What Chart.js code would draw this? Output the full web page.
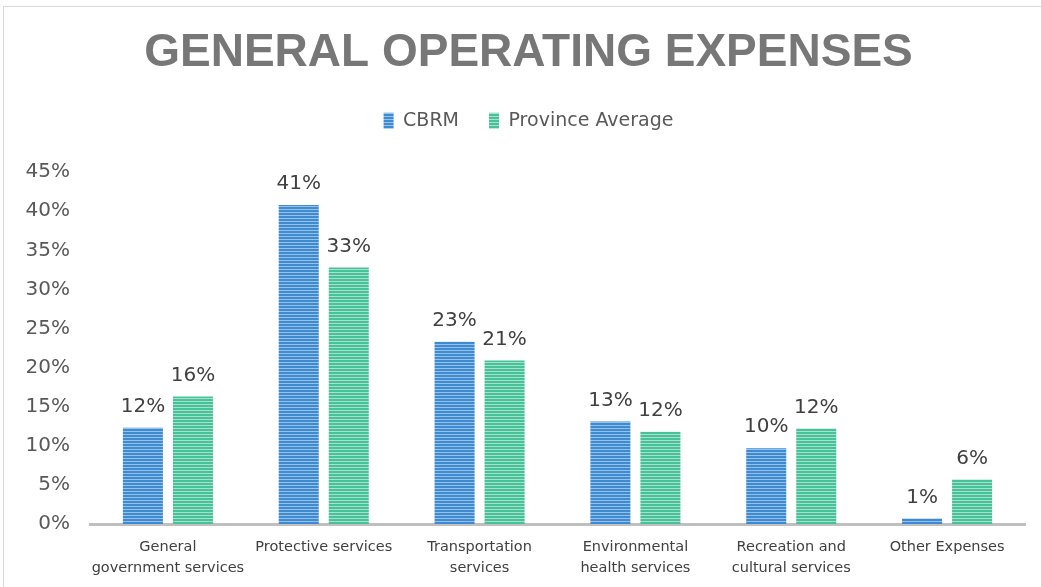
<!DOCTYPE html>
<html><head><meta charset="utf-8">
<script src="https://cdn.jsdelivr.net/npm/chart.js@4"></script>
<style>
html,body{margin:0;padding:0;background:#fff;overflow:hidden;}
#wrap{position:relative;width:1041px;height:587px;}
#frame{position:absolute;left:3px;top:6px;width:1100px;height:700px;border:1px solid #d9d9d9;pointer-events:none;}
canvas{position:absolute;left:0;top:0;}
</style></head><body>
<div id="wrap"><canvas id="c" width="1041" height="587"></canvas><div id="frame"></div></div>
<script>
const categories = [["General","government services"],"Protective services",["Transportation","services"],["Environmental","health services"],["Recreation and","cultural services"],"Other Expenses"];
const seriesNames = ["CBRM","Province Average"];
const cbrm = [12.3,40.8,23.3,13.1,9.7,0.7];
const province = [16.3,32.8,20.9,11.8,12.2,5.7];
const yMin = 0, yMax = 45, yStep = 5;

function stripes(base, light){
  const c = document.createElement('canvas');
  c.width = 4; c.height = 3;
  const x = c.getContext('2d');
  x.fillStyle = base; x.fillRect(0,0,4,3);
  x.fillStyle = light; x.fillRect(0,2,4,1);
  return x.createPattern(c,'repeat');
}
const ctx = document.getElementById('c').getContext('2d');
const bluePat = stripes('#3f8ad0','#93c3ec');
const greenPat = stripes('#47c19a','#a6e2ca');

const valueLabels = {
  id:'valueLabels',
  afterDatasetsDraw(chart){
    const c = chart.ctx;
    c.save();
    c.font = '20px "DejaVu Sans"';
    c.fillStyle = '#404040';
    c.textAlign = 'center';
    c.textBaseline = 'bottom';
    chart.data.datasets.forEach((ds,i)=>{
      chart.getDatasetMeta(i).data.forEach((el,j)=>{
        c.fillText(Math.round(ds.data[j])+'%', el.x, el.y-11);
      });
    });
    c.restore();
  }
};

new Chart(ctx,{
  type:'bar',
  data:{
    labels:categories,
    datasets:[
      {label:seriesNames[0],data:cbrm,backgroundColor:bluePat,borderWidth:0},
      {label:seriesNames[1],data:province,backgroundColor:greenPat,borderWidth:0}
    ]
  },
  options:{
    responsive:false,
    animation:false,
    devicePixelRatio:1,
    layout:{padding:{left:16,right:0,top:0,bottom:0}},
    datasets:{bar:{categoryPercentage:0.642,barPercentage:0.8}},
    plugins:{
      title:{display:true,text:'GENERAL OPERATING EXPENSES',color:'#777777',
        font:{family:'"Liberation Sans"',size:46,weight:'bold',lineHeight:1.2},
        padding:{top:26,bottom:0}},
      subtitle:{display:true,text:'',weight:10,font:{size:1,lineHeight:1},padding:{top:0,bottom:31}},
      legend:{display:true,position:'top',
        labels:{color:'#595959',font:{family:'"DejaVu Sans"',size:19},boxWidth:10,boxHeight:16,padding:30}},
      tooltip:{enabled:false}
    },
    scales:{
      x:{
        grid:{display:false,drawTicks:false},
        border:{display:true,color:'#bfbfbf',width:3},
        ticks:{color:'#404040',font:{family:'"DejaVu Sans"',size:14.5,lineHeight:1.5},padding:12,maxRotation:0,autoSkip:false},
        afterFit(s){s.height=63;}
      },
      y:{
        min:yMin,max:yMax,
        grid:{display:false,drawTicks:false},
        border:{display:false},
        ticks:{stepSize:yStep,color:'#595959',font:{family:'"DejaVu Sans"',size:20},padding:20,callback:v=>v+'%'},
        afterFit(s){s.width=74;}
      },
      yRight:{
        position:'right',
        grid:{display:false,drawTicks:false},
        border:{display:false},
        ticks:{display:false},
        afterFit(s){s.width=16;}
      }
    }
  },
  plugins:[valueLabels]
});
</script>
</body></html>
